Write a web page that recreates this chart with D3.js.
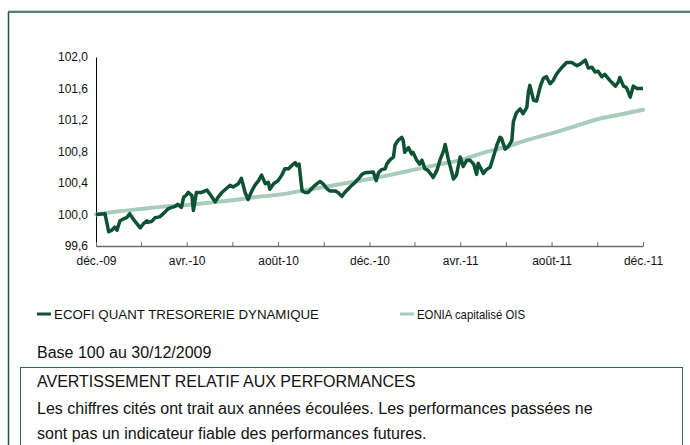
<!DOCTYPE html>
<html>
<head>
<meta charset="utf-8">
<script src="https://cdn.jsdelivr.net/npm/d3@7"></script>
<style>
  body { margin: 0; background: #fff; }
  svg { display: block; font-family: "Liberation Sans", Arial, sans-serif; }
</style>
</head>
<body>
<div id="chart"></div>
<script>
// Base 100 au 30/12/2009 ; jours écoulés depuis cette date
const baseDate = new Date(2009, 11, 30);

const fundDays = [
  0, 12, 17, 21, 23, 25, 28, 32, 36, 41, 45, 49, 54, 59, 63, 68, 69, 74, 79, 85,
  92, 96, 101, 105, 109, 114, 117, 120, 123, 128, 130, 134, 141, 148, 152, 159, 163, 168, 174, 179,
  183, 190, 194, 199, 203, 208, 212, 217, 221, 226, 230, 232, 237, 243, 248, 252, 257, 261, 266, 268,
  271, 275, 279, 283, 288, 292, 299, 303, 308, 312, 319, 323, 328, 332, 339, 346, 350, 355, 359, 370,
  374, 377, 381, 386, 388, 392, 397, 399, 403, 408, 410, 412, 417, 421, 423, 428, 432, 435, 439, 443,
  448, 450, 455, 459, 464, 466, 470, 475, 477, 481, 486, 490, 495, 499, 504, 508, 510, 515, 517, 521,
  526, 530, 535, 539, 541, 546, 550, 555, 557, 561, 566, 570, 575, 577, 579, 584, 588, 593, 597, 601,
  606, 610, 615, 622, 628, 635, 642, 646, 653, 657, 662, 666, 670, 675, 679, 686, 693, 697, 699, 704,
  708, 713, 717, 722, 730
];
const fundValues = [
  100.00, 100.01, 99.78, 99.80, 99.82, 99.84, 99.80, 99.92, 99.94, 99.96, 100.01, 99.95, 99.89, 99.83, 99.88, 99.92, 99.90, 99.91, 99.96, 99.97,
  100.03, 100.07, 100.09, 100.10, 100.13, 100.09, 100.22, 100.24, 100.28, 100.24, 100.05, 100.28, 100.28, 100.31, 100.26, 100.16, 100.22, 100.28, 100.33, 100.37,
  100.35, 100.39, 100.46, 100.28, 100.19, 100.30, 100.37, 100.43, 100.50, 100.39, 100.41, 100.32, 100.39, 100.43, 100.50, 100.58, 100.58, 100.62, 100.66, 100.62,
  100.64, 100.30, 100.28, 100.28, 100.33, 100.37, 100.42, 100.39, 100.33, 100.30, 100.30, 100.28, 100.23, 100.28, 100.35, 100.41, 100.45, 100.51, 100.53, 100.54,
  100.43, 100.53, 100.57, 100.58, 100.64, 100.69, 100.73, 100.88, 100.94, 100.98, 100.94, 100.79, 100.85, 100.77, 100.79, 100.69, 100.64, 100.69, 100.58, 100.56,
  100.50, 100.47, 100.56, 100.69, 100.81, 100.89, 100.71, 100.53, 100.45, 100.50, 100.73, 100.61, 100.69, 100.69, 100.64, 100.51, 100.65, 100.56, 100.52, 100.57,
  100.60, 100.72, 100.88, 100.98, 100.97, 100.83, 100.86, 100.94, 101.18, 101.29, 101.34, 101.28, 101.36, 101.55, 101.64, 101.45, 101.44, 101.63, 101.73, 101.75,
  101.66, 101.70, 101.79, 101.87, 101.93, 101.93, 101.89, 101.91, 101.96, 101.86, 101.87, 101.81, 101.82, 101.75, 101.78, 101.70, 101.63, 101.68, 101.74, 101.63,
  101.61, 101.49, 101.63, 101.60, 101.60
];

// EONIA capitalisé, une valeur par mois (fin de mois)
const eoniaValues = [
  100.00, 100.04, 100.07, 100.10, 100.12, 100.15, 100.18, 100.22, 100.25, 100.30, 100.35, 100.40, 100.45,
  100.51, 100.57, 100.63, 100.69, 100.78, 100.86, 100.95, 101.03, 101.12, 101.21, 101.27, 101.33
];

const yTicks = [99.6, 100.0, 100.4, 100.8, 101.2, 101.6, 102.0];
const seriesNames = ["ECOFI QUANT TRESORERIE DYNAMIQUE", "EONIA capitalisé OIS"];
const baseNote = "Base 100 au 30/12/2009";
const warnTitle = "AVERTISSEMENT RELATIF AUX PERFORMANCES";
const warnLines = [
  "Les chiffres cités ont trait aux années écoulées. Les performances passées ne",
  "sont pas un indicateur fiable des performances futures."
];

const dark = "#0c5233";
const light = "#a9cbbc";

const fr = d3.timeFormatLocale({
  dateTime: "%A %e %B %Y à %X", date: "%d/%m/%Y", time: "%H:%M:%S",
  periods: ["AM", "PM"],
  days: ["dimanche", "lundi", "mardi", "mercredi", "jeudi", "vendredi", "samedi"],
  shortDays: ["dim.", "lun.", "mar.", "mer.", "jeu.", "ven.", "sam."],
  months: ["janvier", "février", "mars", "avril", "mai", "juin", "juillet", "août", "septembre", "octobre", "novembre", "décembre"],
  shortMonths: ["janv.", "févr.", "mars", "avr.", "mai", "juin", "juil.", "août", "sept.", "oct.", "nov.", "déc."]
});

const addDays = d => d3.timeDay.offset(baseDate, d);
const monthTick = k => {
  const m = new Date(2009, 11 + k, 1);
  const last = new Date(m.getFullYear(), m.getMonth() + 1, 0).getDate();
  return new Date(m.getFullYear(), m.getMonth(), Math.min(30, last));
};

const fund = fundDays.map((d, i) => ({ date: addDays(d), value: fundValues[i] }));
const eonia = eoniaValues.map((v, i) => ({ date: monthTick(i), value: v }));
const xTicks = d3.range(13).map(k => monthTick(k * 2));

const svg = d3.select("#chart").append("svg")
  .attr("width", 690)
  .attr("height", 445);

// cadre
svg.append("line").attr("x1", 8).attr("x2", 690).attr("y1", 10.5).attr("y2", 10.5)
  .attr("stroke", "#c8d2cc").attr("stroke-width", 1);
svg.append("line").attr("x1", 8).attr("x2", 690).attr("y1", 12).attr("y2", 12)
  .attr("stroke", "#1d5a3b").attr("stroke-width", 1.5);
svg.append("line").attr("x1", 8.5).attr("x2", 8.5).attr("y1", 12).attr("y2", 445)
  .attr("stroke", "#1d5a3b").attr("stroke-width", 1.5);

// scales
const x = d3.scaleTime().domain([baseDate, addDays(730)]).range([96, 643]);
const y = d3.scaleLinear().domain([99.6, 102.0]).range([246, 57]);

// axes
const yAxis = svg.append("g")
  .attr("transform", "translate(96,0)")
  .call(d3.axisLeft(y).tickValues(yTicks).tickSize(0).tickPadding(8)
    .tickFormat(d => d3.format(".1f")(d).replace(".", ",")));
yAxis.select(".domain").attr("stroke", "#000");
yAxis.selectAll("text").attr("font-size", 12).attr("fill", "#111")
  .attr("font-family", "Liberation Sans, Arial, sans-serif");

const xAxis = svg.append("g")
  .attr("transform", "translate(0,246)")
  .call(d3.axisBottom(x).tickValues(xTicks).tickSizeInner(-4).tickSizeOuter(0).tickPadding(10)
    .tickFormat((d, i) => i % 2 === 0 ? fr.format("%b-%y")(d) : ""));
xAxis.select(".domain").attr("stroke", "#6e6e6e").attr("stroke-width", 1.5);
xAxis.selectAll(".tick line").attr("stroke", "#6e6e6e");
xAxis.selectAll("text").attr("font-size", 12).attr("fill", "#111")
  .attr("font-family", "Liberation Sans, Arial, sans-serif");

// lignes
const line = d3.line().x(d => x(d.date)).y(d => y(d.value));

svg.append("path").datum(eonia)
  .attr("fill", "none").attr("stroke", light).attr("stroke-width", 4)
  .attr("stroke-linecap", "round")
  .attr("d", line.curve(d3.curveMonotoneX));

svg.append("path").datum(fund)
  .attr("fill", "none").attr("stroke", dark).attr("stroke-width", 3.5)
  .attr("stroke-linejoin", "round")
  .attr("d", line.curve(d3.curveLinear));

// légende
const legend = svg.append("g").attr("font-size", 13.3).attr("fill", "#111");
[[37, dark, 265], [400, light, 108]].forEach(([lx, c, w], i) => {
  legend.append("line").attr("x1", lx).attr("x2", lx + 14).attr("y1", 314).attr("y2", 314)
    .attr("stroke", c).attr("stroke-width", 3);
  legend.append("text").attr("x", lx + 17).attr("y", 319)
    .attr("textLength", w).attr("lengthAdjust", "spacingAndGlyphs")
    .text(seriesNames[i]);
});

svg.append("text").attr("x", 37).attr("y", 358).attr("font-size", 16).attr("fill", "#111")
  .text(baseNote);

// avertissement
svg.append("rect").attr("x", 20.5).attr("y", 367.5).attr("width", 662).attr("height", 100)
  .attr("fill", "none").attr("stroke", "#2f6a4b").attr("stroke-width", 1);

svg.append("text").attr("x", 37).attr("y", 387).attr("font-size", 16).attr("fill", "#111")
  .text(warnTitle);
warnLines.forEach((t, i) => {
  svg.append("text").attr("x", 37).attr("y", 414 + i * 25).attr("font-size", 16).attr("fill", "#111")
    .text(t);
});
</script>
</body>
</html>
